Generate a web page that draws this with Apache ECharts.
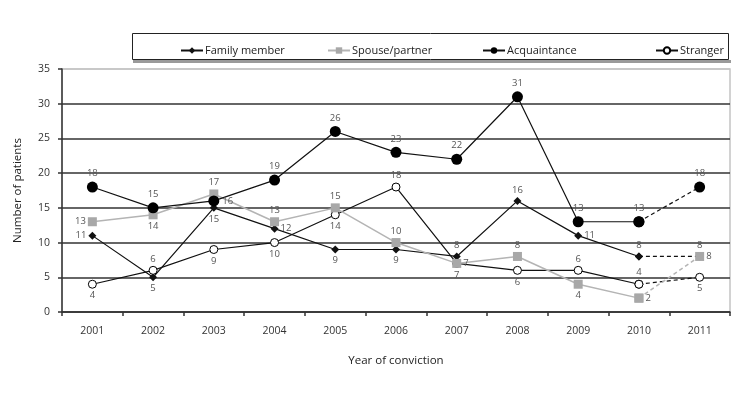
<!DOCTYPE html>
<html><head><meta charset="utf-8">
<script src="https://cdn.jsdelivr.net/npm/echarts@6/dist/echarts.min.js"></script>
<style>html,body{margin:0;padding:0;background:#fff}#c{width:754px;height:413px}</style>
</head><body><div id="c"></div>
<script>
const years = ['2001','2002','2003','2004','2005','2006','2007','2008','2009','2010','2011'];
const familyMember = [11, 5, 15, 12, 9, 9, 8, 16, 11, 8, 8];
const spousePartner = [13, 14, 17, 13, 15, 10, 7, 8, 4, 2, 8];
const acquaintance = [18, 15, 16, 19, 26, 23, 22, 31, 13, 13, 18];
const stranger = [4, 6, 9, 10, 14, 18, 7, 6, 6, 4, 5];
const yTicks = [0, 5, 10, 15, 20, 25, 30, 35];

// label placement per point (style, not data)
const posFamily = ['left','bottom','bottom','right','bottom','bottom','top','top','right','top','top'];
const posSpouse = ['left','bottom','top','top','top','top','right','top','bottom','right','right'];
const posAcq = ['top','top','right','top','top','top','top','top','top','top','top'];
const posStr = ['bottom','top','bottom','bottom','bottom','top','bottom','bottom','top','top','bottom'];

const FONT = 'Open Sans';
const labelBase = {show:true, fontFamily:FONT, fontSize:9.5, color:'#555', distance:2};

function build(vals, pos, from, to, showLabel, dist) {
  return vals.map((v, i) => {
    if (i < from || i > to) return '-';
    const o = {value: v};
    o.label = Object.assign({}, labelBase, {position: pos[i], show: showLabel(i), distance: dist});
    return o;
  });
}
const last = years.length - 1;

function mk(name, vals, pos, style, dashed) {
  const from = dashed ? last - 1 : 0;
  const to = dashed ? last : last - 1;
  return {
    name: name,
    type: 'line',
    data: build(vals, pos, from, to, i => dashed ? i === last : true, style.dist),
    symbol: style.symbol,
    symbolSize: style.size,
    showSymbol: true,
    itemStyle: style.item,
    lineStyle: {color: style.line, width: style.width, type: dashed ? [4,3] : 'solid'},
    z: dashed ? style.z + 1 : style.z,
    animation: false,
    legendHoverLink: false
  };
}
const sFam = {symbol:'diamond', size:8, item:{color:'#111'}, line:'#111', width:1.2, z:3, dist:2};
const sSp = {symbol:'rect', size:9, item:{color:'#a8a8a8'}, line:'#b4b4b4', width:1.5, z:4, dist:2};
const sAc = {symbol:'circle', size:11, item:{color:'#000'}, line:'#111', width:1.2, z:6, dist:3};
const sSt = {symbol:'circle', size:8, item:{color:'#fff', borderColor:'#000', borderWidth:1}, line:'#111', width:1.2, z:3, dist:2};

const series = [
  mk('Family member', familyMember, posFamily, sFam, false),
  mk('Spouse/partner', spousePartner, posSpouse, sSp, false),
  mk('Acquaintance', acquaintance, posAcq, sAc, false),
  mk('Stranger', stranger, posStr, sSt, false),
  mk('Family member ', familyMember, posFamily, sFam, true),
  mk('Spouse/partner ', spousePartner, posSpouse, sSp, true),
  mk('Acquaintance ', acquaintance, posAcq, sAc, true),
  mk('Stranger ', stranger, posStr, sSt, true)
];

const legendX = [175, 322, 477, 650];
const legendNames = ['Family member','Spouse/partner','Acquaintance','Stranger'];
const legends = legendNames.map((n, i) => ({
  data: [n], left: legendX[i], top: 40, itemWidth: 22, itemHeight: 8, itemGap: 0,
  textStyle: {fontFamily: FONT, fontSize: 11, color: '#222', padding:[0,0,0,-3]},
  selectedMode: false
}));

const chart = echarts.init(document.getElementById('c'), null, {renderer:'canvas'});
chart.setOption({
  backgroundColor: '#fff',
  animation: false,
  textStyle: {fontFamily: FONT},
  graphic: [
    {type:'rect', shape:{x:133, y:60, width:598, height:3}, style:{fill:'#9a9a9a'}, z:-1},
    {type:'rect', shape:{x:132.5, y:33.5, width:596, height:26}, style:{fill:'#fff', stroke:'#222', lineWidth:1}, z:0}
  ],
  legend: legends,
  grid: {left: 62, right: 24, top: 69, bottom: 101, show: true, borderColor: '#c4c4c4', borderWidth: 1.5, containLabel:false},
  xAxis: {
    type: 'category', data: years, boundaryGap: true,
    name: 'Year of conviction', nameLocation: 'middle', nameGap: 43,
    nameTextStyle: {fontFamily: FONT, fontSize: 11.5, color: '#222'},
    axisLine: {lineStyle: {color: '#333', width: 1.5}},
    axisTick: {show: true, inside: false, length: 4, lineStyle:{color:'#333', width:1.5}},
    axisLabel: {fontFamily: FONT, fontSize: 10.5, color: '#333', margin: 14}
  },
  yAxis: {
    type: 'value', min: yTicks[0], max: yTicks[yTicks.length-1], interval: 5,
    name: 'Number of patients', nameLocation: 'middle', nameGap: 38,
    nameTextStyle: {fontFamily: FONT, fontSize: 11.5, color: '#222'},
    axisLine: {show: true, lineStyle: {color: '#333', width: 1.5}},
    axisTick: {show: true, inside: false, length: 4, lineStyle:{color:'#333', width:1.5}},
    axisLabel: {fontFamily: FONT, fontSize: 10.5, color: '#333', margin: 12},
    splitLine: {show: true, lineStyle: {color: ['#333','#333','#333','#333','#333','#333','#333','#c4c4c4'], width: 1.5}}
  },
  series: series
});
</script></body></html>
